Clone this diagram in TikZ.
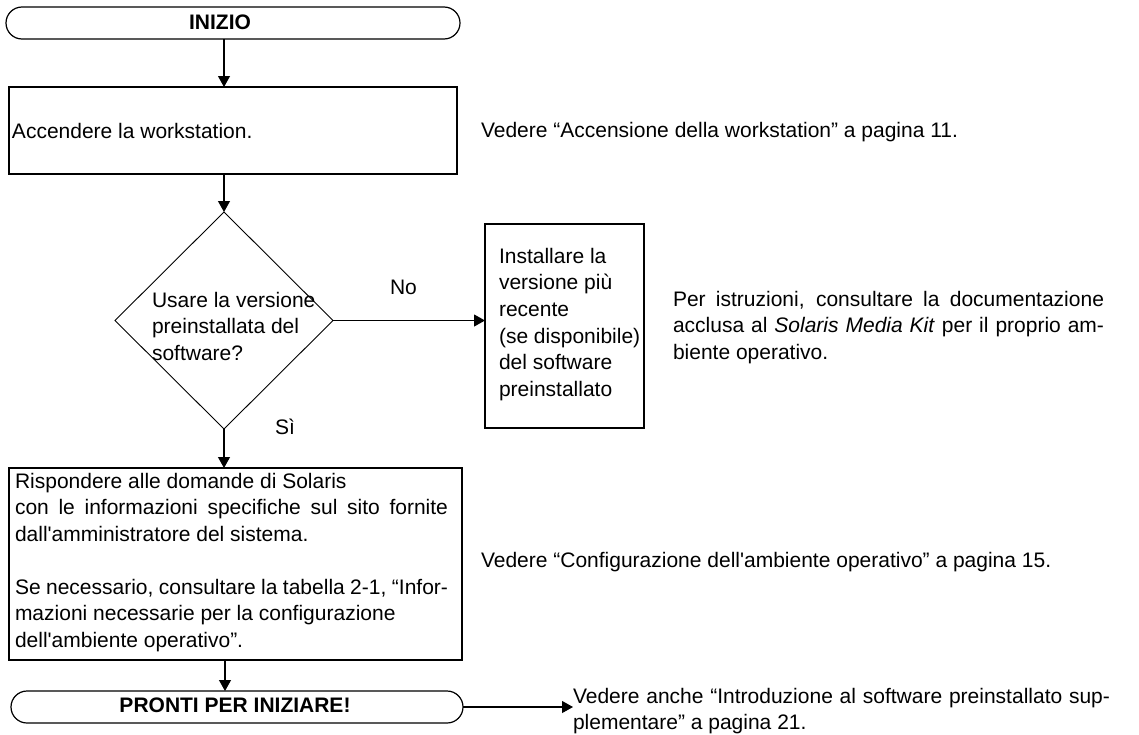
\documentclass[tikz,border=0pt]{standalone}
\usepackage{fontspec}
\setmainfont{Liberation Sans}[Ligatures=TeXOff]
\usetikzlibrary{shapes.geometric,arrows.meta}

% a block of lines set one by one; first baseline is the block's baseline
\newcommand\txtblock[3]{\parbox[t]{#1}{\fontsize{21}{#2}\selectfont #3}}
\newcommand\oneline[1]{\hbox{#1}}
\newcommand\fullline[2]{\hbox to #1{#2}}

\begin{document}
\begin{tikzpicture}[x=1pt,y=-1pt,
  every node/.style={inner sep=0pt,outer sep=0pt},
  term/.style={draw,line width=1.2pt,rectangle,rounded corners=16pt,
    minimum height=32pt},
  stepbox/.style={draw,line width=1.8pt,rectangle},
  decide/.style={draw,line width=0.9pt,diamond,minimum width=218pt,
    minimum height=217pt},
  arr/.style={line width=1.1pt,-{Triangle[length=11pt,width=12pt]}},
  lbl/.style={anchor=base west,font=\fontsize{21}{26.5}\selectfont},
  ttl/.style={anchor=base,font=\fontsize{21}{24}\selectfont\bfseries},
]
\useasboundingbox (0,0) rectangle (1139,734);

% shapes of the flow
\node[term,minimum width=454pt] (start) at (233,23) {};
\node[stepbox,minimum width=448pt,minimum height=87pt] (power) at (233,130.5) {};
\node[decide] (ask) at (224,320.5) {};
\node[stepbox,minimum width=159pt,minimum height=204pt] (inst) at (564.5,326) {};
\node[stepbox,minimum width=453pt,minimum height=192pt] (answer) at (235.5,564) {};
\node[term,minimum width=452pt] (ready) at (237,707) {};

% texts inside the shapes
\node[ttl] (tstart) at (220,29.5) {INIZIO};
\node[lbl] (tpower) at (12,138) {Accendere la workstation.};
\node[lbl] (task) at (152,307) {\txtblock{170pt}{26.7}{%
  \oneline{Usare la versione}\oneline{preinstallata del}\oneline{software?}}};
\node[lbl] (tinst) at (499,263) {\txtblock{140pt}{26.7}{%
  \oneline{Installare la}\oneline{versione più}\oneline{recente}\oneline{(se disponibile)}%
  \oneline{del software}\oneline{preinstallato}}};
\node[lbl] (tanswer) at (15,488) {\txtblock{433pt}{26.5}{%
  \oneline{Rispondere alle domande di Solaris}%
  \fullline{433pt}{con le informazioni specifiche sul sito fornite}%
  \oneline{dall'amministratore del sistema.}\vskip26.5pt
  \fullline{433pt}{Se necessario, consultare la tabella 2-1, “Infor-}%
  \oneline{mazioni necessarie per la configurazione}%
  \oneline{dell'ambiente operativo”.}}};
\node[ttl] (tready) at (235,712.5) {PRONTI PER INIZIARE!};

% branch labels
\node[lbl] (no) at (390,294) {No};
\node[lbl] (yes) at (275,434) {Sì};

% side notes
\node[lbl] (n1) at (481,137) {Vedere “Accensione della workstation” a pagina 11.};
\node[lbl] (n2) at (673,306) {\txtblock{431pt}{26.5}{%
  \fullline{431pt}{Per istruzioni, consultare la documentazione}%
  \fullline{431pt}{acclusa al \textit{Solaris Media Kit} per il proprio am-}%
  \oneline{biente operativo.}}};
\node[lbl] (n3) at (481,567) {Vedere “Configurazione dell'ambiente operativo” a pagina 15.};
\node[lbl] (n4) at (573,703) {\txtblock{537pt}{26.5}{%
  \fullline{537pt}{Vedere anche “Introduzione al software preinstallato sup-}%
  \oneline{plementare” a pagina 21.}}};

% connectors
\draw[arr] (start.south -| ask.north) -- (power.north -| ask.north);
\draw[arr] (power.south -| ask.north) -- (ask.north);
\draw[arr] (ask.east) -- (inst.west |- ask.east);
\draw[arr] (ask.south) -- (answer.north -| ask.south);
\draw[arr] (answer.south -| 225,0) -- (ready.north -| 225,0);
\draw[arr] (ready.east) -- (n4.west |- ready.east);
\end{tikzpicture}
\end{document}
